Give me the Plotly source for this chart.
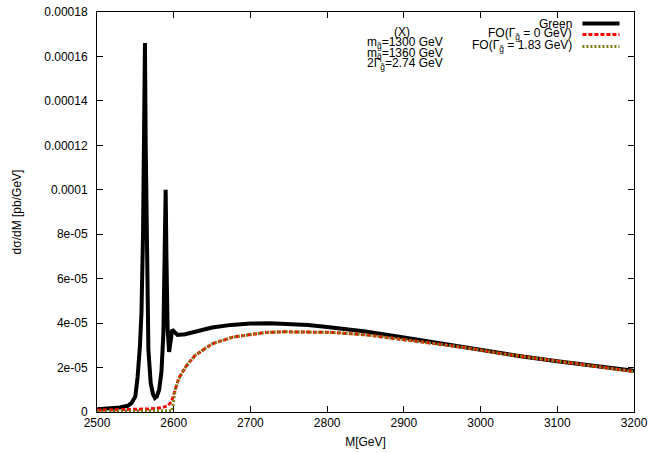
import plotly.graph_objects as go

# Invariant-mass distribution dσ/dM (pb/GeV)
m_green = [2500, 2520, 2530, 2540, 2545, 2550, 2553, 2556, 2558, 2560, 2561.5, 2562.5,
           2563.5, 2565, 2567, 2570, 2573, 2575.5, 2578, 2581, 2584, 2586.5, 2588.5,
           2589.5, 2590.5, 2592, 2594, 2596, 2598, 2601, 2605, 2615, 2630, 2650, 2675,
           2700, 2725, 2750, 2775, 2800, 2850, 2900, 2950, 3000, 3050, 3100, 3150, 3200]
v_green = [1.2e-6, 1.6e-6, 2.0e-6, 2.8e-6, 4.0e-6, 7.0e-6, 1.6e-5, 3.0e-5, 4.5e-5, 8.0e-5,
           1.25e-4, 1.66e-4, 1.2e-4, 6.0e-5, 2.8e-5, 1.3e-5, 8.0e-6, 6.3e-6, 7.0e-6, 1.0e-5,
           1.8e-5, 3.5e-5, 7.0e-5, 1.0e-4, 7.0e-5, 3.8e-5, 2.7e-5, 3.3e-5, 3.7e-5, 3.6e-5,
           3.47e-5, 3.5e-5, 3.64e-5, 3.8e-5, 3.92e-5, 3.98e-5, 3.99e-5, 3.97e-5, 3.91e-5,
           3.82e-5, 3.62e-5, 3.35e-5, 3.06e-5, 2.78e-5, 2.52e-5, 2.28e-5, 2.06e-5, 1.85e-5]

m_fo0 = [2500, 2540, 2570, 2585, 2592, 2597, 2600, 2602, 2605, 2608, 2612, 2617, 2628,
         2641, 2651, 2677, 2700, 2720, 2745, 2764, 2807, 2852, 2895, 2938, 2982, 3025,
         3075, 3125, 3165, 3200]
v_fo0 = [8e-7, 1.0e-6, 1.4e-6, 2.0e-6, 2.8e-6, 4.5e-6, 8e-6, 1.05e-5, 1.35e-5, 1.6e-5,
         1.85e-5, 2.1e-5, 2.55e-5, 2.87e-5, 3.08e-5, 3.37e-5, 3.5e-5, 3.58e-5, 3.61e-5,
         3.61e-5, 3.58e-5, 3.47e-5, 3.27e-5, 3.09e-5, 2.89e-5, 2.64e-5, 2.4e-5, 2.16e-5,
         1.98e-5, 1.82e-5]

m_fo183 = [2500, 2540, 2570, 2590, 2598, 2600, 2602, 2605, 2608, 2612, 2617, 2628, 2641,
           2651, 2677, 2700, 2720, 2745, 2764, 2807, 2852, 2895, 2938, 2982, 3025, 3075,
           3125, 3165, 3200]
v_fo183 = [4e-7, 4e-7, 4e-7, 4e-7, 6e-7, 5e-6, 1.0e-5, 1.35e-5, 1.6e-5, 1.85e-5, 2.1e-5,
           2.55e-5, 2.87e-5, 3.08e-5, 3.37e-5, 3.5e-5, 3.58e-5, 3.61e-5, 3.61e-5, 3.58e-5,
           3.47e-5, 3.27e-5, 3.09e-5, 2.89e-5, 2.64e-5, 2.4e-5, 2.16e-5, 1.98e-5, 1.82e-5]

x_ticks = [2500, 2600, 2700, 2800, 2900, 3000, 3100, 3200]
y_ticks = [0, 2e-5, 4e-5, 6e-5, 8e-5, 1e-4, 1.2e-4, 1.4e-4, 1.6e-4, 1.8e-4]
y_tick_text = ["0", "2e-05", "4e-05", "6e-05", "8e-05", "0.0001", "0.00012",
               "0.00014", "0.00016", "0.00018"]

series_names = ["Green", "FO(Γ<sub>g̃</sub> = 0 GeV)", "FO(Γ<sub>g̃</sub> = 1.83 GeV)"]
info_lines = ["(X)", "m<sub>g̃</sub>=1300 GeV", "m<sub>q̃</sub>=1360 GeV",
              "2Γ<sub>g̃</sub>=2.74 GeV"]

colors = ["#000000", "#ff0000", "#7f7f10"]
dashes = ["solid", "4px,2px", "2px,2px"]
widths = [4, 3, 3]

fig = go.Figure()
for xs, ys, name, c, d, w in zip([m_green, m_fo0, m_fo183], [v_green, v_fo0, v_fo183],
                                 series_names, colors, dashes, widths):
    fig.add_trace(go.Scatter(x=xs, y=ys, mode="lines", name=name, showlegend=False,
                             line=dict(color=c, dash=d, width=w)))

font = dict(family="Liberation Sans, Arial, sans-serif", size=12, color="#000000")

# key drawn in the top-right corner: right-aligned text, sample line to its right
key_y = [0.971, 0.944, 0.914]
for name, c, d, w, ky in zip(series_names, colors, dashes, widths, key_y):
    fig.add_annotation(xref="paper", yref="paper", x=0.889, y=ky, text=name,
                       showarrow=False, xanchor="right", yanchor="middle", font=font)
    fig.add_shape(type="line", xref="paper", yref="paper", x0=0.904, x1=0.973,
                  y0=ky, y1=ky, line=dict(color=c, dash=d, width=w))

info_y = [0.951, 0.922, 0.896, 0.870]
info_x = [0.568, 0.573, 0.573, 0.573]
for txt, ix, iy in zip(info_lines, info_x, info_y):
    fig.add_annotation(xref="paper", yref="paper", x=ix, y=iy, text=txt,
                       showarrow=False, xanchor="center", yanchor="middle", font=font)

axis_common = dict(showline=True, linecolor="#000000", linewidth=1, mirror="allticks",
                   ticks="inside", ticklen=6, tickcolor="#000000", showgrid=False,
                   zeroline=False, tickfont=font, automargin=False)

fig.update_layout(
    width=652, height=453,
    margin=dict(l=97, r=18, t=12, b=41),
    paper_bgcolor="white", plot_bgcolor="white",
    font=font,
    xaxis=dict(range=[2500, 3200], tickvals=x_ticks,
               title=dict(text="M[GeV]", font=font, standoff=8), **axis_common),
    yaxis=dict(range=[0, 1.8e-4], tickvals=y_ticks, ticktext=y_tick_text,
               ticklabelstandoff=6,
               title=dict(text="dσ/dM [pb/GeV]", font=font, standoff=20), **axis_common),
)

fig.write_html("out.html")
